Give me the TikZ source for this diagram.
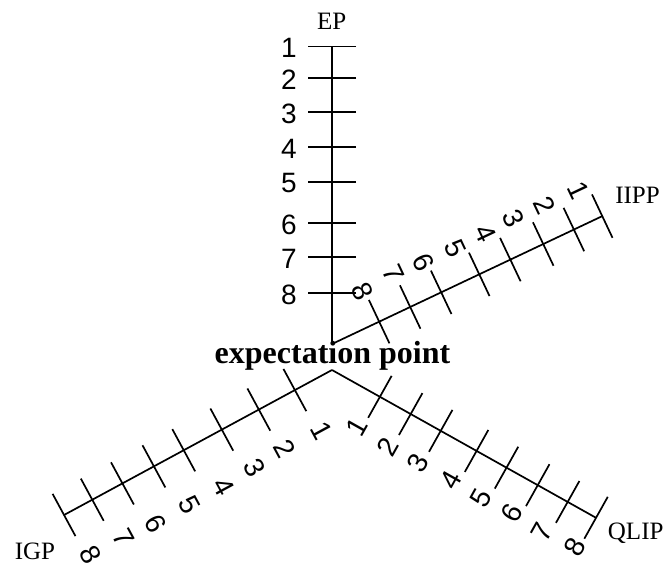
\documentclass[tikz,border=0pt]{standalone}
\usepackage{fontspec}
\setmainfont{Liberation Serif}
\setsansfont{Liberation Sans}
\usetikzlibrary{calc}
\tikzset{
  axisline/.style={line width=1.7pt},
  tickline/.style={line width=1.7pt},
  num/.style={font=\sffamily\fontsize{28}{28}\selectfont, inner sep=0pt},
  axisname/.style={font=\fontsize{25}{25}\selectfont, inner sep=0pt, anchor=base},
  titletext/.style={font=\bfseries\fontsize{32}{32}\selectfont, inner sep=0pt, anchor=base}
}
\begin{document}
\begin{tikzpicture}[x=1pt,y=1pt]
\useasboundingbox (0,0) rectangle (669,569);
\coordinate (c1) at (332,225);
\coordinate (c2) at (332,199);
% EP axis (vertical)
\coordinate (epend) at ($(c1)+(90:297.5)$);
\draw[axisline] (c1) -- (epend);
\foreach \d/\l in {50.7/8,86.7/7,120.7/6,162.3/5,196.7/4,231.7/3,265.7/2,297.5/1}{
  \draw[tickline] ($(c1)+(90:\d)+(0:24)$) -- ($(c1)+(90:\d)+(180:24)$);
  \node[num] (ep\l) at ($(c1)+(-43,\d-1.5)$) {\l};
}
\node[axisname] (epname) at (331.7,539) {EP};
% IIPP axis
\coordinate (iippend) at ($(c1)+(25.32:299)$);
\draw[axisline] (c1) -- (iippend);
\foreach \d in {52.2,86.5,120.8,162.9,197.3,233.7,267.6,299}{
  \draw[tickline] ($(c1)+(25.32:\d)+(115.32:24)$) -- ($(c1)+(25.32:\d)+(-64.68:24)$);
}
\foreach \l/\x/\y in {8/362.5/277.3,7/394/295.7,6/424/306.5,5/455/321,4/486/336,3/514/351,2/545/364,1/579/379}{
  \node[num, rotate=-64.68] (iipp\l) at (\x,\y) {\l};
}
\node[axisname] (iippname) at (637.5,365.7) {IIPP};
% QLIP axis
\coordinate (qlipend) at ($(c2)+(-29.24:302.6)$);
\draw[axisline] (c2) -- (qlipend);
\foreach \d in {54.9,90.2,124.6,165.7,200,235.8,270.1,302.6}{
  \draw[tickline] ($(c2)+(-29.24:\d)+(60.76:24)$) -- ($(c2)+(-29.24:\d)+(240.76:24)$);
}
\foreach \l/\x/\y in {1/356.7/141.5,2/387.5/122.3,3/418.3/105.7,4/450.8/89,5/480.8/70.7,6/511.7/55.7,7/541.7/37.3,8/575/21.5}{
  \node[num, rotate=60.76] (qlip\l) at (\x,\y) {\l};
}
\node[axisname] (qlipname) at (635.7,29.5) {QLIP};
% IGP axis
\coordinate (igpend) at ($(c2)+(208.42:304.7)$);
\draw[axisline] (c2) -- (igpend);
\foreach \d in {42.2,83.2,125.3,168.6,202.5,238.3,272.6,304.7}{
  \draw[tickline] ($(c2)+(208.42:\d)+(118.42:24)$) -- ($(c2)+(208.42:\d)+(-61.58:24)$);
}
\foreach \l/\x/\y in {1/321.7/138.2,2/285/120.7,3/255/101.5,4/223.3/82.3,5/190/64,6/155.8/45.7,7/124/31.5,8/90.8/14}{
  \node[num, rotate=-61.58] (igp\l) at (\x,\y) {\l};
}
\node[axisname] (igpname) at (35,9) {IGP};
% centre text
\node[titletext] (centre) at (332.5,205.5) {expectation point};
\end{tikzpicture}
\end{document}
